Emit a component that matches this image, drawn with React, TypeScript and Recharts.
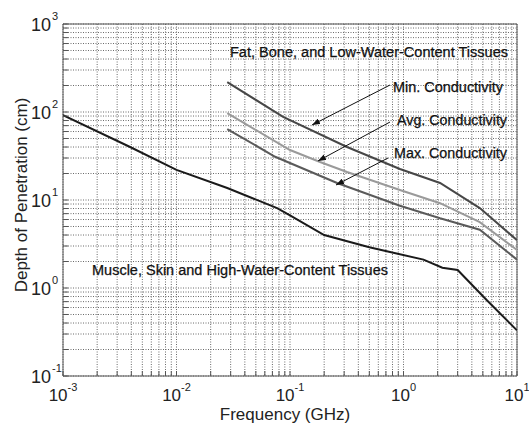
import React from "react";
import {
  LineChart,
  Line,
  XAxis,
  YAxis,
  CartesianGrid,
  ReferenceArea,
} from "recharts";

// frequencies in GHz, depths in cm
const muscleFreq = [0.001, 0.0039, 0.01, 0.028, 0.077, 0.1, 0.2, 0.5, 1.5, 2.2, 3, 5.4, 10];
const muscleDepth = [92, 40, 22, 13.7, 8.1, 6.7, 4.0, 2.9, 2.1, 1.7, 1.6, 0.73, 0.33];

const minFreq = [0.028, 0.087, 0.318, 0.93, 2.1, 4.7, 10];
const minDepth = [219, 88, 40, 22.5, 15.6, 8.1, 3.5];

const avgFreq = [0.028, 0.1, 0.184, 0.318, 0.93, 2.1, 4.7, 10];
const avgDepth = [97, 37, 27, 20.8, 13, 9.2, 5.6, 2.7];

const maxFreq = [0.028, 0.074, 0.26, 0.93, 2.1, 4.7, 10];
const maxDepth = [64, 31, 15.6, 8.6, 6.2, 4.6, 2.1];

const xDecades = [-3, -2, -1, 0];
const yDecades = [-1, 0, 1, 2];
const minorSteps = [1, 2, 3, 4, 5, 6, 7, 8, 9];

const buildTicks = (decades: number[]) => {
  const out: number[] = [];
  decades.forEach((e) =>
    minorSteps.forEach((m) => out.push(Number((m * Math.pow(10, e)).toPrecision(3))))
  );
  out.push(Math.pow(10, decades[decades.length - 1] + 1));
  return out;
};

const xTicks = buildTicks(xDecades);
const yTicks = buildTicks(yDecades);

const toRows = (fs: number[], ds: number[]) => fs.map((f, i) => ({ f, d: ds[i] }));

const FONT = "'Liberation Sans', Arial, sans-serif";

const exponentOf = (v: number) => {
  const l = Math.log10(v);
  const e = Math.round(l);
  return Math.abs(l - e) < 1e-6 ? e : null;
};

const XTick = (props: any) => {
  const { x, y, payload } = props;
  const e = exponentOf(payload.value);
  return (
    <g>
      <line x1={x} x2={x} y1={y} y2={y - 5} stroke="#555" />
      {e !== null && (
        <text x={x} y={y + 25} textAnchor="middle" fontSize={17} fill="#222" fontFamily={FONT}>
          <tspan>10</tspan>
          <tspan dy={-10} fontSize={11}>{e}</tspan>
        </text>
      )}
    </g>
  );
};

const YTick = (props: any) => {
  const { x, y, payload } = props;
  const e = exponentOf(payload.value);
  return (
    <g>
      <line x1={x} x2={x + 5} y1={y} y2={y} stroke="#555" />
      {e !== null && (
        <g fontFamily={FONT} fill="#222">
          <text x={x - 12} y={y + 7} textAnchor="end" fontSize={18}>10</text>
          <text x={x - 11} y={y - 4} textAnchor="start" fontSize={11}>{e}</text>
        </g>
      )}
    </g>
  );
};

export default function App() {
  return (
    <div style={{ position: "absolute", left: 0, top: 0, width: 529, height: 423, background: "#fff" }}>
      <LineChart width={529} height={423} margin={{ top: 24, right: 12, bottom: 46, left: 62 }}>
        <CartesianGrid stroke="#6a6a6a" strokeDasharray="1 1.5" />
        <XAxis
          dataKey="f"
          type="number"
          scale="log"
          domain={[0.001, 10]}
          ticks={xTicks}
          interval={0}
          height={1}
          tickSize={0}
          tickMargin={0}
          axisLine={false}
          tickLine={false}
          tick={<XTick />}
          allowDataOverflow
        />
        <YAxis
          type="number"
          scale="log"
          domain={[0.1, 1000]}
          ticks={yTicks}
          interval={0}
          width={1}
          tickSize={0}
          tickMargin={0}
          axisLine={false}
          tickLine={false}
          tick={<YTick />}
          allowDataOverflow
        />
        <ReferenceArea x1={0.001} x2={10} y1={0.1} y2={1000} fill="none" stroke="#555" strokeWidth={1} />
        <Line data={toRows(muscleFreq, muscleDepth)} dataKey="d" stroke="#1a1a1a" strokeWidth={2} dot={false} isAnimationActive={false} />
        <Line data={toRows(minFreq, minDepth)} dataKey="d" stroke="#474747" strokeWidth={2} dot={false} isAnimationActive={false} />
        <Line data={toRows(avgFreq, avgDepth)} dataKey="d" stroke="#9a9a9a" strokeWidth={2} dot={false} isAnimationActive={false} />
        <Line data={toRows(maxFreq, maxDepth)} dataKey="d" stroke="#5a5a5a" strokeWidth={2} dot={false} isAnimationActive={false} />
      </LineChart>

      {/* annotations and axis titles */}
      <svg width={529} height={423} style={{ position: "absolute", left: 0, top: 0, pointerEvents: "none" }} fontFamily={FONT}>
        <defs>
          <marker id="ah" markerWidth={8} markerHeight={6} refX={8} refY={3} orient="auto" markerUnits="userSpaceOnUse">
            <path d="M0,0 L8,3 L0,6 z" fill="#111" />
          </marker>
        </defs>
        <g fontSize={14} fill="#111" stroke="#111" strokeWidth={0.25}>
          <text x={230} y={57} textLength={278} lengthAdjust="spacingAndGlyphs">Fat, Bone, and Low-Water-Content Tissues</text>
          <text x={393} y={92} textLength={110} lengthAdjust="spacingAndGlyphs">Min. Conductivity</text>
          <text x={397} y={125} textLength={110} lengthAdjust="spacingAndGlyphs">Avg. Conductivity</text>
          <text x={394} y={158} textLength={113} lengthAdjust="spacingAndGlyphs">Max. Conductivity</text>
          <text x={92} y={275} textLength={296} lengthAdjust="spacingAndGlyphs">Muscle, Skin and High-Water-Content Tissues</text>
        </g>
        <g stroke="#111" strokeWidth={1}>
          <line x1={390} y1={85} x2={312} y2={125} markerEnd="url(#ah)" />
          <line x1={390} y1={122} x2={318} y2={161} markerEnd="url(#ah)" />
          <line x1={388} y1={158} x2={336} y2={185} markerEnd="url(#ah)" />
        </g>
        <text x={285} y={420} textAnchor="middle" fontSize={17} fill="#222">Frequency (GHz)</text>
        <text x={27} y={195} textAnchor="middle" fontSize={17} fill="#222" transform="rotate(-90 27 195)">
          Depth of Penetration (cm)
        </text>
      </svg>
    </div>
  );
}
